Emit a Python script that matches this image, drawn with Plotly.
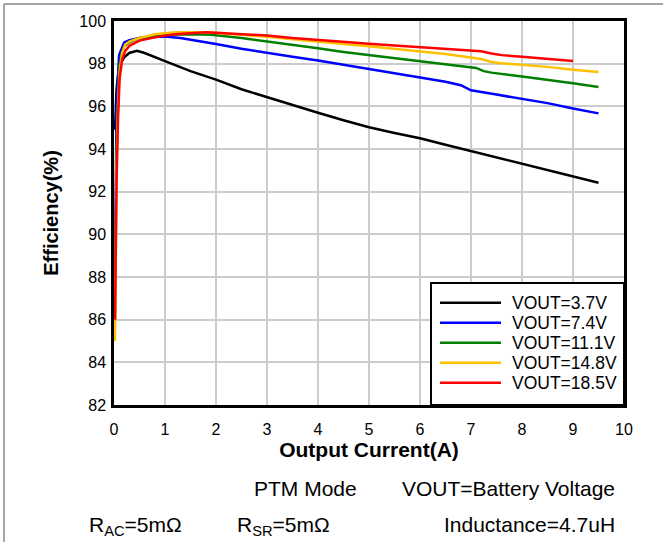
import plotly.graph_objects as go

# ---- data ----
x_37 = [0.02, 0.05, 0.1, 0.2, 0.3, 0.45, 0.6, 0.8, 1.0, 1.5, 2.0, 2.5, 3.0, 3.5, 4.0, 4.5,
        5.0, 5.5, 6.0, 6.5, 7.0, 7.5, 8.0, 8.5, 9.0, 9.5]
y_37 = [94.9, 96.8, 97.9, 98.3, 98.5, 98.6, 98.5, 98.3, 98.12, 97.65, 97.25, 96.8, 96.43, 96.05,
        95.7, 95.35, 95.02, 94.75, 94.5, 94.2, 93.9, 93.6, 93.3, 93.0, 92.7, 92.42]

x_74 = [0.02, 0.05, 0.1, 0.2, 0.3, 0.5, 0.8, 1.0, 1.3, 1.7, 2.0, 2.5, 3.0, 3.5, 4.0, 4.5, 5.0,
        5.5, 6.0, 6.5, 6.8, 6.95, 7.0, 7.5, 8.0, 8.5, 9.0, 9.5]
y_74 = [88.0, 96.0, 98.4, 99.0, 99.1, 99.2, 99.25, 99.27, 99.2, 99.05, 98.92, 98.7, 98.5, 98.32,
        98.15, 97.95, 97.75, 97.55, 97.35, 97.15, 96.99, 96.8, 96.75, 96.55, 96.35, 96.15, 95.9, 95.67]

x_111 = [0.02, 0.05, 0.1, 0.15, 0.2, 0.3, 0.5, 0.8, 1.0, 1.5, 1.9, 2.5, 3.0, 3.5, 4.0, 4.5, 5.0,
         5.5, 6.0, 6.5, 7.1, 7.25, 7.4, 8.0, 8.5, 9.0, 9.5]
y_111 = [86.0, 94.0, 97.8, 98.5, 98.8, 99.0, 99.2, 99.3, 99.35, 99.38, 99.36, 99.2, 99.05, 98.88,
         98.72, 98.55, 98.4, 98.25, 98.1, 97.95, 97.8, 97.65, 97.58, 97.4, 97.25, 97.08, 96.91]

x_148 = [0.02, 0.05, 0.08, 0.11, 0.16, 0.22, 0.31, 0.5, 0.8, 1.2, 1.9, 2.5, 3.0, 3.5, 4.0, 4.5,
         5.0, 5.5, 6.0, 6.5, 7.2, 7.4, 7.6, 8.0, 8.5, 9.0, 9.5]
y_148 = [85.0, 93.0, 96.0, 97.6, 98.5, 98.9, 99.05, 99.2, 99.38, 99.47, 99.47, 99.37, 99.26, 99.14,
         99.02, 98.92, 98.82, 98.7, 98.6, 98.45, 98.22, 98.08, 98.02, 97.95, 97.85, 97.72, 97.61]

x_185 = [0.02, 0.05, 0.08, 0.11, 0.16, 0.22, 0.31, 0.5, 0.9, 1.2, 1.8, 2.5, 3.0, 3.5, 4.0, 4.5,
         5.0, 5.5, 6.0, 6.5, 7.2, 7.4, 7.6, 8.0, 8.5, 9.0]
y_185 = [86.0, 92.5, 95.5, 97.3, 98.2, 98.6, 98.85, 99.08, 99.28, 99.38, 99.47, 99.4, 99.32, 99.2,
         99.1, 99.0, 98.93, 98.85, 98.78, 98.68, 98.58, 98.48, 98.4, 98.32, 98.22, 98.12]

series_names = ["VOUT=3.7V", "VOUT=7.4V", "VOUT=11.1V", "VOUT=14.8V", "VOUT=18.5V"]
series_x = [x_37, x_74, x_111, x_148, x_185]
series_y = [y_37, y_74, y_111, y_148, y_185]
series_colors = ["#000000", "#0000ff", "#008000", "#ffc000", "#ff0000"]

x_ticks = list(range(0, 11))
y_ticks = list(range(82, 101, 2))

FONT = "Arial, Liberation Sans, sans-serif"

# plot area in pixels (figure 663x542)
L, R, T, B = 114, 624, 21, 405
W, H = R - L, B - T


def px(xp):
    return (xp - L) / W


def py(yp):
    return (B - yp) / H


fig = go.Figure()
for name, xs, ys, c in zip(series_names, series_x, series_y, series_colors):
    fig.add_trace(go.Scatter(x=xs, y=ys, mode="lines", name=name,
                             line=dict(color=c, width=2.5)))

fig.update_layout(
    width=663, height=542,
    margin=dict(l=L, r=663 - R, t=T, b=542 - B),
    paper_bgcolor="white", plot_bgcolor="white",
    font=dict(family=FONT, size=16, color="black"),
    showlegend=False,
    xaxis=dict(range=[0, 10], tickvals=x_ticks, showgrid=True, gridcolor="#cccccc", gridwidth=1.5,
               showline=True, linecolor="black", linewidth=2.5, mirror=True, zeroline=False,
               ticks="", tickfont=dict(size=16), ticklabelstandoff=8,
               title=dict(text="<b>Output Current(A)</b>", font=dict(size=21), standoff=4)),
    yaxis=dict(range=[82, 100], tickvals=y_ticks, showgrid=True, gridcolor="#cccccc", gridwidth=1.5,
               showline=True, linecolor="black", linewidth=2.5, mirror=True, zeroline=False,
               ticks="", tickfont=dict(size=16), ticklabelstandoff=2,
               title=dict(text="<b>Efficiency(%)</b>", font=dict(size=20), standoff=16)),
)

# legend box drawn manually (reference has tight 20px row spacing)
fig.add_shape(type="rect", xref="paper", yref="paper", x0=px(431), x1=px(624), y0=py(405), y1=py(283),
              line=dict(color="black", width=2), fillcolor="white", layer="above")
for i, (name, c) in enumerate(zip(series_names, series_colors)):
    yc = 302.7 + 20 * i
    fig.add_shape(type="line", xref="paper", yref="paper", x0=px(440), x1=px(501),
                  y0=py(yc), y1=py(yc), line=dict(color=c, width=2.5), layer="above")
    fig.add_annotation(xref="paper", yref="paper", x=px(510), y=py(yc), text=name,
                       xanchor="left", yanchor="middle", showarrow=False,
                       font=dict(size=17.5, family=FONT))

ann = [
    dict(text="PTM Mode", x=px(252), y=py(488), xanchor="left"),
    dict(text="VOUT=Battery Voltage", x=px(617), y=py(488), xanchor="right"),
    dict(text="R<sub>AC</sub>=5mΩ", x=px(87), y=py(526), xanchor="left"),
    dict(text="R<sub>SR</sub>=5mΩ", x=px(235), y=py(526), xanchor="left"),
    dict(text="Inductance=4.7uH", x=px(617), y=py(524), xanchor="right"),
]
for a in ann:
    fig.add_annotation(xref="paper", yref="paper", showarrow=False, yanchor="middle",
                       font=dict(size=21, family=FONT), **a)

# outer frame (left and top edges visible in the reference)
fig.add_shape(type="line", xref="paper", yref="paper", x0=px(4), x1=px(4),
              y0=py(4), y1=py(545), line=dict(color="#888888", width=1.5))
fig.add_shape(type="line", xref="paper", yref="paper", x0=px(4), x1=px(665),
              y0=py(4), y1=py(4), line=dict(color="#888888", width=1.5))

fig.write_html("out.html")
